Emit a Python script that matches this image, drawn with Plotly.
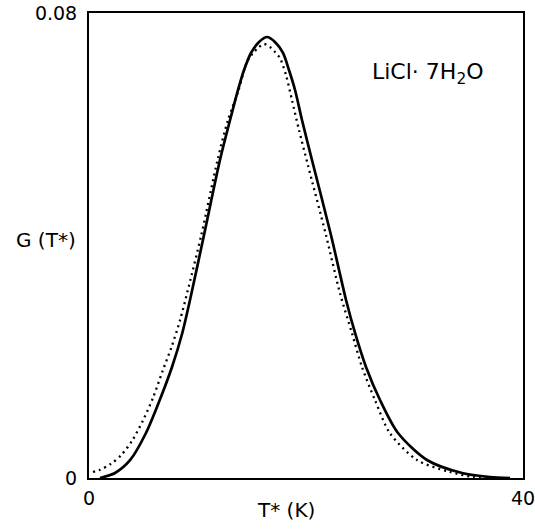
import plotly.graph_objects as go

# Solid curve
solid_T = [1.01, 2.40, 3.80, 5.25, 6.52, 7.65, 8.60, 9.31, 10.60, 12.07, 13.00, 13.73, 14.29,
           14.93, 15.67, 16.41, 17.14, 17.88, 18.43, 18.99, 19.63, 20.55, 22.30, 23.69, 24.52,
           25.53, 26.82, 28.48, 31.15, 34.38, 36.96, 38.80]
solid_G = [0.0, 0.00086, 0.00310, 0.00774, 0.01342, 0.01910, 0.02495, 0.03063, 0.04181, 0.05471,
           0.06159, 0.06675, 0.07019, 0.07312, 0.07501, 0.07587, 0.07501, 0.07312, 0.07019,
           0.06675, 0.06159, 0.05471, 0.04181, 0.03063, 0.02495, 0.01910, 0.01342, 0.00774,
           0.00310, 0.00086, 0.00017, 0.0]

# Dotted curve
dot_T = [0.37, 1.00, 2.00, 3.00, 4.00, 5.00, 5.90, 6.80, 7.60, 8.40, 9.20, 10.35,
         11.85, 12.81, 13.73, 14.56, 15.12, 15.58, 16.13, 16.68, 17.14, 17.60, 18.16,
         18.71, 19.35, 20.18, 21.84, 23.13, 24.24, 25.16, 26.36, 27.74, 30.23, 33.27, 35.39, 36.50]
dot_G = [0.00103, 0.00140, 0.00240, 0.00400, 0.00650, 0.01000, 0.01380, 0.01850, 0.02250,
         0.02720, 0.03300, 0.04180, 0.05471, 0.06159, 0.06640,
         0.07157, 0.07312, 0.07398, 0.07467, 0.07415, 0.07329, 0.07226, 0.06930, 0.06500,
         0.05990, 0.05380, 0.04180, 0.03180, 0.02490, 0.01910, 0.01340, 0.00770, 0.00310,
         0.00103, 0.00017, 0.0]

x_ticks = [0, 40]
x_ticklabels = ["0", "40"]
y_ticks = [0, 0.08]
y_ticklabels = ["0", "0.08"]

FONT = "DejaVu Sans"
W, H = 535, 529
ML, MR, MT, MB = 89, 12, 13, 51
PW, PH = W - ML - MR, H - MT - MB


def px(x):
    return (x - ML) / PW


def py(y):
    return (H - MB - y) / PH


fig = go.Figure()
fig.add_trace(go.Scatter(x=dot_T, y=dot_G, mode="lines",
                         line=dict(color="black", width=2.3, dash="2px,4px", shape="spline", smoothing=0.8),
                         showlegend=False, hoverinfo="skip"))
fig.add_trace(go.Scatter(x=solid_T, y=solid_G, mode="lines",
                         line=dict(color="black", width=2.7, shape="spline", smoothing=0.8),
                         showlegend=False, hoverinfo="skip"))

fig.update_layout(
    width=W, height=H,
    margin=dict(l=ML, r=MR, t=MT, b=MB, autoexpand=False),
    paper_bgcolor="white", plot_bgcolor="white",
    font=dict(family=FONT, color="black", size=18),
    xaxis=dict(range=[0, 40], tickvals=x_ticks, ticktext=x_ticklabels, showgrid=False,
               zeroline=False, showline=True, linecolor="black", linewidth=2, mirror=True,
               ticks="", ticklen=0, ticklabelstandoff=2, automargin=False,
               ticklabeloverflow="allow", tickfont=dict(size=19, family=FONT)),
    yaxis=dict(range=[0, 0.08], tickvals=y_ticks, ticktext=y_ticklabels, showgrid=False,
               zeroline=False, showline=True, linecolor="black", linewidth=2, mirror=True,
               ticks="", ticklen=0, ticklabelstandoff=6, automargin=False,
               ticklabeloverflow="allow", tickfont=dict(size=19, family=FONT)),
    annotations=[
        dict(text="LiCl· 7H<sub>2</sub>O", x=px(486), y=py(73), xref="paper", yref="paper",
             xanchor="right", yanchor="middle", showarrow=False, font=dict(size=22, family=FONT)),
        dict(text="G (T*)", x=px(78), y=py(240), xref="paper", yref="paper",
             xanchor="right", yanchor="middle", showarrow=False, font=dict(size=20, family=FONT)),
        dict(text="T* (K)", x=px(286), y=py(510), xref="paper", yref="paper",
             xanchor="center", yanchor="middle", showarrow=False, font=dict(size=20, family=FONT)),
    ],
)

fig.write_html("out.html", config={"displayModeBar": False},
               post_script="document.body.style.margin='0';")
